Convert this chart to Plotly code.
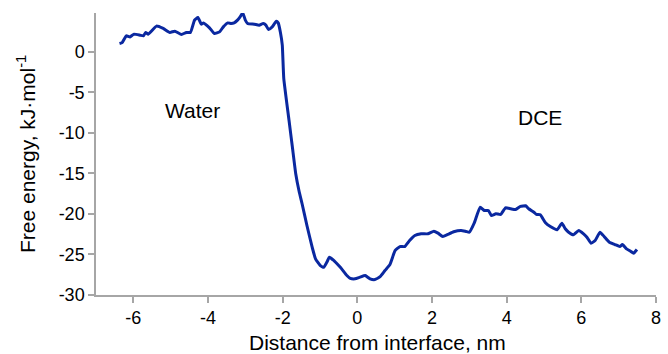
import plotly.graph_objects as go

# Free-energy profile across the water / DCE interface
distance_nm = [
    -6.37, -6.30, -6.19, -6.09, -5.98, -5.82, -5.73, -5.67, -5.60, -5.38,
    -5.20, -5.02, -4.89, -4.71, -4.58, -4.47, -4.36, -4.27, -4.18, -4.12,
    -3.96, -3.83, -3.69, -3.59, -3.47, -3.38, -3.30, -3.21, -3.14, -3.07,
    -3.00, -2.94, -2.76, -2.63, -2.52, -2.45, -2.38, -2.28, -2.17, -2.12,
    -2.06, -2.01, -1.97, -1.83, -1.74, -1.65, -1.56, -1.48, -1.35, -1.21,
    -1.12, -0.99, -0.90, -0.80, -0.75, -0.64, -0.50, -0.42, -0.28, -0.19,
    -0.06, 0.07, 0.21, 0.34, 0.47, 0.61, 0.74, 0.87, 0.96, 1.01,
    1.14, 1.27, 1.40, 1.54, 1.71, 1.89, 2.05, 2.16, 2.29, 2.42,
    2.58, 2.78, 2.91, 3.00, 3.13, 3.29, 3.40, 3.51, 3.59, 3.71,
    3.84, 3.97, 4.11, 4.24, 4.37, 4.51, 4.59, 4.73, 4.80, 4.90,
    5.04, 5.17, 5.35, 5.48, 5.57, 5.66, 5.79, 5.93, 6.06, 6.15,
    6.26, 6.37, 6.50, 6.61, 6.75, 6.90, 7.03, 7.10, 7.21, 7.32,
    7.40, 7.49,
]
free_energy = [
    1.04, 1.15, 1.98, 1.85, 2.19, 2.06, 1.98, 2.40, 2.19, 3.18,
    2.89, 2.40, 2.56, 2.15, 2.40, 2.40, 3.92, 4.25, 3.42, 3.58,
    2.97, 2.27, 2.47, 3.09, 3.58, 3.51, 3.58, 3.92, 4.33, 4.82,
    3.92, 3.51, 3.42, 3.30, 3.51, 3.30, 2.77, 3.09, 3.79, 3.58,
    2.40, 0.83, -3.29, -8.44, -11.74, -15.03, -17.20, -18.74, -21.42, -24.10,
    -25.54, -26.37, -26.58, -25.80, -25.34, -25.70, -26.37, -26.78, -27.60, -27.94,
    -28.00, -27.80, -27.60, -28.00, -28.10, -27.73, -26.98, -26.28, -25.13, -24.51,
    -24.02, -24.02, -23.28, -22.66, -22.45, -22.45, -22.13, -22.37, -22.78, -22.53,
    -22.20, -22.04, -22.16, -22.25, -21.13, -19.16, -19.57, -19.57, -20.19, -19.98,
    -20.06, -19.24, -19.36, -19.45, -19.07, -18.99, -19.36, -19.78, -20.06, -20.10,
    -21.09, -21.55, -21.95, -21.14, -21.83, -22.25, -22.57, -22.04, -22.45, -22.87,
    -23.61, -23.28, -22.25, -22.78, -23.49, -23.77, -24.02, -23.77, -24.30, -24.60,
    -24.85, -24.39,
]

x_ticks = [-6, -4, -2, 0, 2, 4, 6, 8]
x_tick_labels = ["-6", "-4", "-2", "0", "2", "4", "6", "8"]
y_ticks = [-30, -25, -20, -15, -10, -5, 0]
y_tick_labels = ["-30", "-25", "-20", "-15", "-10", "-5", "0"]

phase_names = ["Water", "DCE"]
phase_x = [-4.41, 4.90]
phase_y = [-7.2, -8.07]

FONT = "Liberation Sans, Arial, sans-serif"
AXIS_GREY = "#a6a6a6"

fig = go.Figure()
fig.add_trace(go.Scatter(
    x=distance_nm, y=free_energy, mode="lines",
    line=dict(color="rgb(10,40,160)", width=3, shape="spline", smoothing=0.4),
    showlegend=False, hoverinfo="skip",
))

for name, px, py in zip(phase_names, phase_x, phase_y):
    fig.add_annotation(x=px, y=py, xref="x", yref="y", text=name,
                       showarrow=False, font=dict(family=FONT, size=21, color="black"))

# axis titles
fig.add_annotation(x=-0.125, y=0.5, xref="paper", yref="paper",
                   text="Free energy, kJ·mol<sup>-1</sup>", textangle=-90,
                   showarrow=False, xanchor="center", yanchor="middle",
                   font=dict(family=FONT, size=21, color="black"))
fig.add_annotation(x=0.503, y=-0.17, xref="paper", yref="paper",
                   text="Distance from interface, nm",
                   showarrow=False, xanchor="center", yanchor="middle",
                   font=dict(family=FONT, size=21, color="black"))

fig.update_layout(
    width=668, height=354,
    margin=dict(l=96, r=7, t=13, b=59),
    paper_bgcolor="white", plot_bgcolor="white",
    font=dict(family=FONT, size=18, color="black"),
    xaxis=dict(range=[-7, 8], tickvals=x_ticks, ticktext=x_tick_labels,
               showgrid=False, zeroline=False, showline=True,
               linecolor=AXIS_GREY, linewidth=1.5,
               ticks="outside", ticklen=6, tickcolor=AXIS_GREY, tickwidth=1.5,
               tickfont=dict(family=FONT, size=18, color="black")),
    yaxis=dict(range=[-30, 4.8], tickvals=y_ticks, ticktext=y_tick_labels,
               showgrid=False, zeroline=False, showline=True,
               linecolor=AXIS_GREY, linewidth=1.5,
               ticks="outside", ticklen=6, tickcolor=AXIS_GREY, tickwidth=1.5,
               tickfont=dict(family=FONT, size=18, color="black")),
)

fig.write_html("out.html")
